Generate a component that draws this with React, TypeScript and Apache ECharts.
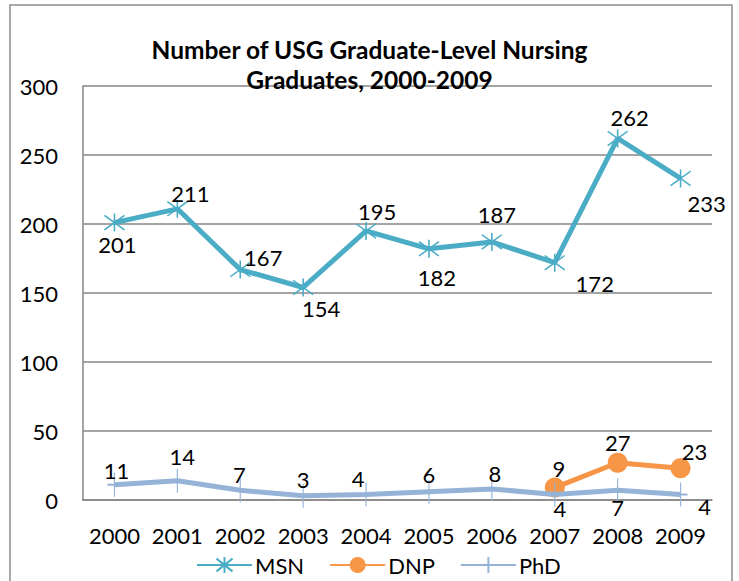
import React, { useEffect, useRef } from "react";
import * as echarts from "echarts";

const years = ["2000", "2001", "2002", "2003", "2004", "2005", "2006", "2007", "2008", "2009"];
const msnValues = [201, 211, 167, 154, 195, 182, 187, 172, 262, 233];
const dnpValues: (number | null)[] = [null, null, null, null, null, null, null, 9, 27, 23];
const phdValues = [11, 14, 7, 3, 4, 6, 8, 4, 7, 4];

// label offsets (visual placement only)
const msnOffsets = [[3, 22], [13, -15], [23, -12], [18, 21], [11, -19], [8, 29], [5, -27], [40, 21], [12, -21], [26, 25]];
const dnpOffsets = [[0, 0], [0, 0], [0, 0], [0, 0], [0, 0], [0, 0], [0, 0], [4, -19], [0, -20], [14, -17]];
const phdOffsets = [[2, -14], [5, -24], [-1, -16], [0, -16], [-8, -16], [0, -17], [3, -15], [5, 14], [0, 17], [24, 12]];

const FONT = "Lato";
const FS = 22;
const asterisk = "path://M-1,-0.8L1,0.8M-1,0.8L1,-0.8M0,-1L0,1";
const plus = "path://M0,-1L0,1M-0.6,0L0.6,0";

export default function App() {
  const ref = useRef<HTMLDivElement>(null);
  useEffect(() => {
    if (!ref.current) return;
    const chart = echarts.init(ref.current, undefined, { renderer: "svg" });
    const mk = (vals: (number | null)[], offs: number[][]) =>
      vals.map((v, i) =>
        v === null
          ? "-"
          : { value: v, label: { offset: offs[i] } }
      );
    const labelBase = {
      show: true,
      position: "inside",
      color: "#000",
      fontFamily: FONT,
      fontSize: FS,
    };
    chart.setOption({
      animation: false,
      backgroundColor: "#fff",
      title: {
        text: "Number of USG Graduate-Level Nursing\nGraduates, 2000-2009",
        left: "center",
        top: 34,
        padding: 0,
        textStyle: { fontFamily: FONT, fontWeight: "bold", fontSize: 24.5, color: "#000", lineHeight: 30 },
      },
      graphic: [
        {
          type: "rect",
          shape: { x: 10, y: 5, width: 722, height: 600 },
          style: { fill: "none", stroke: "#8c8c8c", lineWidth: 1.5 },
          silent: true,
        },
      ],
      grid: { left: 83, right: 27, top: 86, bottom: 81 },
      legend: {
        left: 196,
        top: 554,
        padding: 0,
        itemWidth: 55,
        itemHeight: 20,
        itemGap: 25,
        textStyle: { fontFamily: FONT, fontSize: FS, color: "#000", padding: [0, 0, 0, -2] },
        data: ["MSN", "DNP", "PhD"],
      },
      xAxis: {
        type: "category",
        data: years,
        axisLine: { lineStyle: { color: "#868686", width: 1.5 } },
        axisTick: { show: false },
        axisLabel: { fontFamily: FONT, fontSize: FS, color: "#000", margin: 24, interval: 0 },
      },
      yAxis: {
        type: "value",
        min: 0,
        max: 300,
        interval: 50,
        axisLine: { show: true, lineStyle: { color: "#868686", width: 1.5 } },
        axisTick: { show: false },
        splitLine: { lineStyle: { color: "#868686", width: 1.5 } },
        axisLabel: { fontFamily: FONT, fontSize: FS, color: "#000", margin: 25 },
      },
      series: [
        {
          name: "MSN",
          type: "line",
          data: mk(msnValues, msnOffsets),
          symbol: asterisk,
          symbolSize: [20, 18],
          showAllSymbol: true,
          lineStyle: { color: "#4BACC6", width: 5 },
          itemStyle: { color: "#4BACC6", borderColor: "#4BACC6", borderWidth: 1.5 },
          label: labelBase,
          z: 3,
        },
        {
          name: "DNP",
          type: "line",
          data: mk(dnpValues, dnpOffsets),
          symbol: "circle",
          symbolSize: 20,
          lineStyle: { color: "#F79646", width: 5 },
          itemStyle: { color: "#F79646", borderColor: "#F79646", borderWidth: 0 },
          label: labelBase,
          z: 4,
        },
        {
          name: "PhD",
          type: "line",
          data: mk(phdValues, phdOffsets),
          symbol: plus,
          symbolSize: [14, 24],
          showAllSymbol: true,
          lineStyle: { color: "#95B3D7", width: 5 },
          itemStyle: { color: "#95B3D7", borderColor: "#95B3D7", borderWidth: 1.5 },
          label: labelBase,
          z: 5,
        },
      ],
    });
    return () => chart.dispose();
  }, []);
  return (
    <div
      ref={ref}
      style={{ position: "fixed", left: 0, top: 0, width: 739, height: 581 }}
    />
  );
}
